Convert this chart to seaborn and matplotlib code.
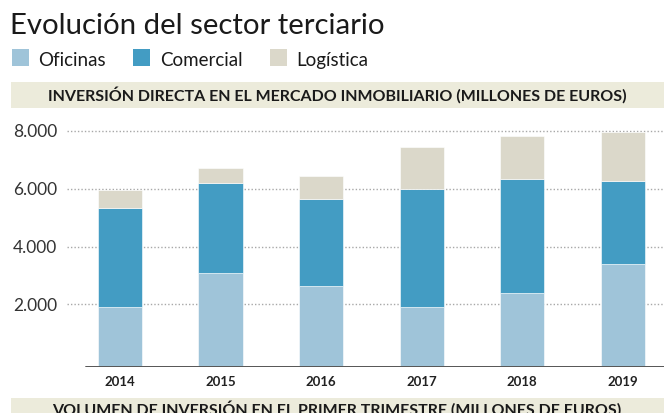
import matplotlib
matplotlib.use("Agg")
import matplotlib.pyplot as plt
from matplotlib.patches import Rectangle
import seaborn as sns

years = ["2014", "2015", "2016", "2017", "2018", "2019"]
oficinas = [1910, 3070, 2640, 1910, 2400, 3380]
comercial = [3430, 3130, 2990, 4090, 3920, 2890]
logistica = [610, 500, 810, 1430, 1510, 1690]

colors = {"Oficinas": "#9fc4d9", "Comercial": "#439cc3", "Logística": "#dbd8ca"}
band_color = "#ecebdb"

sns.set_style("white")
plt.rcParams["font.family"] = ["Lato", "DejaVu Sans"]

W, H = 664, 413
fig = plt.figure(figsize=(W / 100, H / 100), dpi=100)


def fx(x):
    return x / W


def fy(y):
    return 1 - y / H


ymin, ymax = -170, 8370
ax = fig.add_axes([fx(67), fy(367.3), 1 - fx(67), (367.3 - 120) / H])

x = list(range(len(years)))
bottom = [ymin] * len(years)
for name, vals in [("Oficinas", oficinas), ("Comercial", comercial), ("Logística", logistica)]:
    heights = [v if b != ymin else v - ymin for v, b in zip(vals, bottom)]
    ax.bar(x, heights, bottom=bottom, width=0.44, color=colors[name],
           edgecolor="white", linewidth=0.4, zorder=3)
    bottom = [b + h for b, h in zip(bottom, heights)]

ax.set_xlim(-0.527, 5.41)
ax.set_ylim(ymin, ymax)
ax.set_yticks([2000, 4000, 6000, 8000])
ax.set_yticklabels([f"{v:,}".replace(",", ".") for v in [2000, 4000, 6000, 8000]],
                   fontsize=12.5, color="#333333")
ax.set_xticks(x)
ax.set_xticklabels(years, fontsize=9.5, fontweight="bold", color="#222222")
ax.tick_params(axis="both", length=0)
ax.tick_params(axis="y", pad=7)
ax.tick_params(axis="x", pad=6)
ax.yaxis.grid(True, linestyle=(0, (1, 1.5)), color="#a8a8a8", linewidth=1, zorder=0)
ax.xaxis.grid(False)
sns.despine(ax=ax, left=True, bottom=True, top=True, right=True)
ax.axhline(ymin, xmin=(86 - 67) / (W - 67), xmax=1, color="#555555", linewidth=1.4, zorder=4)

# title
fig.text(fx(10), fy(33.5), "Evolución del sector terciario", fontsize=21.2, fontweight="normal",
         color="#1a1a1a", va="baseline", ha="left")

# legend
for name, sx, tx in [("Oficinas", 12, 38), ("Comercial", 133, 160), ("Logística", 270, 296)]:
    fig.add_artist(Rectangle((fx(sx), fy(66)), fx(17), 17 / H, transform=fig.transFigure,
                             facecolor=colors[name], edgecolor="none"))
    fig.text(fx(tx), fy(66), name, fontsize=13.5, color="#1a1a1a", va="baseline", ha="left")

# section bands
fig.add_artist(Rectangle((fx(11), fy(108)), 1 - fx(11), 26 / H, transform=fig.transFigure,
                         facecolor=band_color, edgecolor="none"))
fig.text(fx(337), fy(95.5), "INVERSIÓN DIRECTA EN EL MERCADO INMOBILIARIO (MILLONES DE EUROS)",
         fontsize=11.5, fontweight="bold", color="#1a1a1a", va="center", ha="center")

fig.add_artist(Rectangle((fx(11), 0), 1 - fx(11), 15 / H, transform=fig.transFigure,
                         facecolor=band_color, edgecolor="none"))
fig.text(fx(337), fy(401), "VOLUMEN DE INVERSIÓN EN EL PRIMER TRIMESTRE (MILLONES DE EUROS)",
         fontsize=11.5, fontweight="bold", color="#1a1a1a", va="top", ha="center")

fig.savefig("out.png", dpi=100)
